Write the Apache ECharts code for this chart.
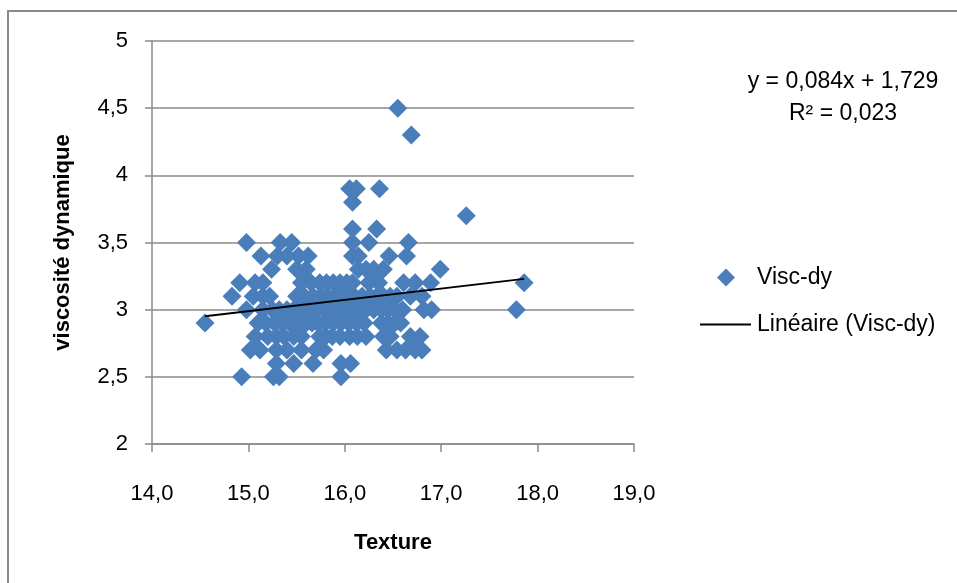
<!DOCTYPE html>
<html>
<head>
<meta charset="utf-8">
<script src="https://cdn.jsdelivr.net/npm/echarts@6/dist/echarts.min.js"></script>
<style>html,body{margin:0;padding:0;background:#fff;}#c{width:957px;height:583px;}</style>
</head>
<body>
<div id="c"></div>
<script>
// Data: texture (x) and dynamic viscosity (y), grouped by viscosity level
const row45 = [16.55];
const row43 = [16.69];
const row39 = [16.05, 16.12, 16.36];
const row38 = [16.08];
const row37 = [17.26];
const row36 = [16.08, 16.33];
const row35 = [14.98, 15.33, 15.45, 16.08, 16.25, 16.66];
const row34 = [15.13, 15.30, 15.40, 15.52, 15.62, 16.08, 16.14, 16.46, 16.64];
const row33 = [15.24, 15.50, 15.60, 16.14, 16.22, 16.30, 16.40, 16.99];
const row32 = [14.91, 15.07, 15.15, 15.55, 15.65, 15.74, 15.81, 15.88, 15.95, 16.02, 16.08, 16.25, 16.35, 16.61, 16.73, 16.89, 17.86];
const row31 = [14.83, 15.05, 15.15, 15.22, 15.50, 15.58, 15.67, 15.75, 15.82, 15.90, 15.97, 16.03, 16.10, 16.18, 16.26, 16.33, 16.40, 16.47, 16.54, 16.68, 16.80];
const row30 = [14.98, 15.15, 15.25, 15.32, 15.40, 15.47, 15.55, 15.62, 15.70, 15.78, 15.85, 15.92, 16.00, 16.07, 16.15, 16.22, 16.30, 16.38, 16.45, 16.52, 16.60, 16.82, 16.90, 17.78];
const row29 = [14.55, 15.10, 15.18, 15.27, 15.35, 15.43, 15.52, 15.60, 15.66, 15.72, 15.80, 15.88, 15.96, 16.04, 16.12, 16.20, 16.38, 16.45, 16.52, 16.58];
const row28 = [15.07, 15.20, 15.29, 15.37, 15.47, 15.55, 15.74, 15.80, 15.87, 15.95, 16.05, 16.13, 16.22, 16.40, 16.47, 16.68, 16.78];
const row27 = [15.02, 15.12, 15.29, 15.40, 15.55, 15.70, 15.78, 16.43, 16.54, 16.63, 16.73, 16.80];
const row26 = [15.29, 15.47, 15.67, 15.96, 16.06];
const row25 = [14.93, 15.26, 15.32, 15.96];

const rowLevels = [4.5, 4.3, 3.9, 3.8, 3.7, 3.6, 3.5, 3.4, 3.3, 3.2, 3.1, 3.0, 2.9, 2.8, 2.7, 2.6, 2.5];
const rowTextures = [row45, row43, row39, row38, row37, row36, row35, row34, row33, row32, row31, row30, row29, row28, row27, row26, row25];

// Trend line printed on the chart
const trendSlope = 0.084;
const trendIntercept = 1.729;
const equationText = 'y = 0,084x + 1,729';
const r2Text = 'R² = 0,023';

const seriesName = 'Visc-dy';
const trendName = 'Linéaire (Visc-dy)';
const xTitle = 'Texture';
const yTitle = 'viscosité dynamique';

const points = [];
rowTextures.forEach((xs, i) => xs.forEach(x => points.push([x, rowLevels[i]])));
const allX = points.map(p => p[0]);
const xMin = Math.min(...allX), xMax = Math.max(...allX);
const trend = [[xMin, trendSlope * xMin + trendIntercept], [xMax, trendSlope * xMax + trendIntercept]];

const FONT = 'Liberation Sans';
const GRAY = '#8a8a8a';
const comma = v => String(v).replace('.', ',');

const chart = echarts.init(document.getElementById('c'));
chart.setOption({
  animation: false,
  backgroundColor: '#fff',
  textStyle: { fontFamily: FONT },
  grid: { left: 152, right: 323, top: 41, bottom: 139, containLabel: false },
  xAxis: {
    type: 'value', min: 14, max: 19, interval: 1,
    name: xTitle, nameLocation: 'middle', nameGap: 88,
    nameTextStyle: { fontFamily: FONT, fontSize: 22, fontWeight: 'bold', color: '#000' },
    axisLine: { show: true, onZero: false, lineStyle: { color: GRAY, width: 1.5 } },
    axisTick: { show: true, length: 8, inside: false, lineStyle: { color: GRAY, width: 1.5 } },
    axisLabel: { fontFamily: FONT, fontSize: 22, color: '#000', margin: 39, formatter: v => v.toFixed(1).replace('.', ',') },
    splitLine: { show: false }
  },
  yAxis: {
    type: 'value', min: 2, max: 5, interval: 0.5,
    name: yTitle, nameLocation: 'middle', nameGap: 78, nameRotate: 90,
    nameTextStyle: { fontFamily: FONT, fontSize: 22, fontWeight: 'bold', color: '#000' },
    axisLine: { show: true, onZero: false, lineStyle: { color: GRAY, width: 1.5 } },
    axisTick: { show: true, length: 7, inside: false, lineStyle: { color: GRAY, width: 1.5 } },
    axisLabel: { fontFamily: FONT, fontSize: 22, color: '#000', margin: 24, formatter: v => comma(v) },
    splitLine: { show: true, lineStyle: { color: GRAY, width: 1.5 } }
  },
  legend: [
    {
      data: [{ name: seriesName, icon: 'diamond' }],
      left: 717, top: 266, padding: 0, itemWidth: 18, itemHeight: 18,
      selectedMode: false,
      textStyle: { fontFamily: FONT, fontSize: 23, color: '#000', padding: [0, 0, 0, 17] }
    },
    {
      data: [{ name: trendName, icon: 'rect' }],
      left: 700, top: 313, padding: 0, itemWidth: 51, itemHeight: 2,
      selectedMode: false,
      textStyle: { fontFamily: FONT, fontSize: 23, color: '#000', padding: [0, 0, 0, 1] }
    }
  ],
  graphic: [
    { type: 'rect', shape: { x: 8, y: 11, width: 1200, height: 1200 }, style: { fill: 'none', stroke: GRAY, lineWidth: 2 }, silent: true },
    { type: 'text', style: { text: equationText, x: 843, y: 82, textAlign: 'center', textVerticalAlign: 'middle', fontFamily: FONT, fontSize: 23, fill: '#000' } },
    { type: 'text', style: { text: r2Text, x: 843, y: 114, textAlign: 'center', textVerticalAlign: 'middle', fontFamily: FONT, fontSize: 23, fill: '#000' } }
  ],
  series: [
    {
      name: seriesName, type: 'scatter', symbol: 'diamond', symbolSize: 19,
      itemStyle: { color: '#4a7ebb', opacity: 1 },
      data: points, z: 2
    },
    {
      name: trendName, type: 'line', showSymbol: false, symbol: 'none',
      itemStyle: { color: '#000' },
      lineStyle: { color: '#000', width: 2 },
      data: trend, z: 3
    }
  ]
});
</script>
</body>
</html>
